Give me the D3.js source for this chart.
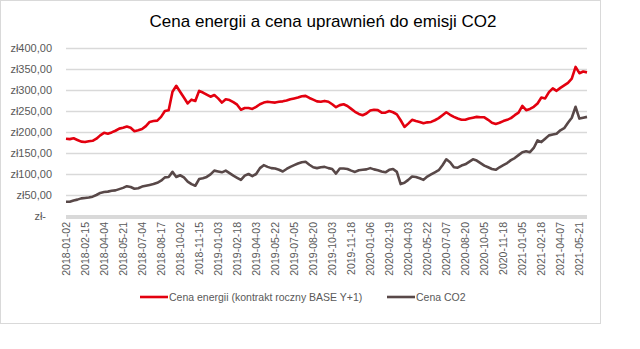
<!DOCTYPE html>
<html>
<head>
<meta charset="utf-8">
<script src="https://cdn.jsdelivr.net/npm/d3@7"></script>
<style>
  body { margin: 0; background: #fff; }
  svg { display: block; font-family: 'Liberation Sans', Arial, sans-serif; }
</style>
</head>
<body>
<svg id="chart" width="640" height="349"></svg>
<script>
// trading-day index of every sample (one value each 6 sessions)
let step = 6;
let lastIndex = 822;

// cena energii, kontrakt roczny BASE Y+1 (zl/MWh)
let energyValues = [
  184, 183, 185, 181, 177, 176, 178, 179, 184, 192,
  198, 196, 199, 203, 208, 210, 213, 210, 202, 204,
  207, 214, 224, 226, 227, 236, 250, 252, 296, 310,
  296, 282, 268, 277, 274, 298, 294, 289, 284, 288,
  280, 270, 278, 276, 271, 265, 253, 257, 257, 255,
  260, 266, 270, 272, 271, 270, 272, 273, 275, 278,
  280, 282, 285, 286, 281, 277, 273, 272, 274, 272,
  266, 259, 264, 266, 262, 255, 248, 243, 240, 244,
  251, 253, 252, 246, 246, 250, 247, 242, 228, 212,
  220, 229, 226, 224, 221, 223, 224, 228, 233, 240,
  247, 241, 236, 232, 229, 229, 232, 234, 236, 235,
  235, 229, 222, 219, 222, 226, 229, 233, 240, 246,
  262, 252, 255, 260, 268, 282, 280, 295, 304, 298,
  305, 311, 317, 327, 355, 340, 344, 342
];

// cena uprawnien do emisji CO2
let co2Values = [
  34, 34, 37, 39, 42, 43, 44, 46, 50, 55,
  57, 58, 60, 61, 64, 67, 71, 69, 65, 66,
  70, 72, 74, 76, 79, 84, 92, 93, 105, 93,
  97, 92, 82, 76, 72, 88, 90, 93, 99, 108,
  106, 104, 108, 102, 96, 91, 86, 96, 100, 95,
  100, 114, 121, 117, 114, 113, 110, 106, 112, 117,
  121, 125, 128, 129, 122, 116, 114, 116, 117, 114,
  112, 101, 113, 113, 112, 108, 105, 109, 110, 111,
  114, 111, 109, 106, 104, 110, 112, 105, 76, 79,
  86, 94, 93, 90, 86, 94, 99, 104, 109, 121,
  135, 128, 116, 115, 120, 123, 129, 135, 132, 126,
  120, 116, 112, 110, 116, 121, 126, 133, 138, 145,
  152, 154, 152, 162, 180, 176, 184, 192, 194, 196,
  204, 209, 222, 234, 260, 232, 234, 236
];

// category labels, one each 30 sessions
let tickLabels = [
  '2018-01-02', '2018-02-15', '2018-04-04', '2018-05-21', '2018-07-04', '2018-08-17',
  '2018-10-02', '2018-11-15', '2019-01-03', '2019-02-18', '2019-04-03', '2019-05-22',
  '2019-07-05', '2019-08-20', '2019-10-03', '2019-11-18', '2020-01-06', '2020-02-19',
  '2020-04-03', '2020-05-22', '2020-07-07', '2020-08-20', '2020-10-05', '2020-11-18',
  '2021-01-05', '2021-02-18', '2021-04-07', '2021-05-21'
];
let tickEvery = 30;
let yTicks = [0, 50, 100, 150, 200, 250, 300, 350, 400];

let seriesNames = ['Cena energii (kontrakt roczny BASE Y+1)', 'Cena CO2'];
let seriesColors = ['#e3000f', '#584848'];

let plotLeft = 66;
let plotRight = 587;
let plotTop = 48;
let plotBottom = 216;
let gridColor = '#d9d9d9';
let textColor = '#595959';

const svg = d3.select('#chart');

svg.append('rect')
  .attr('x', 0.5)
  .attr('y', 0.5)
  .attr('width', 600)
  .attr('height', 323)
  .attr('fill', '#fff')
  .attr('stroke', gridColor);

svg.append('text')
  .attr('x', 323)
  .attr('y', 27)
  .attr('text-anchor', 'middle')
  .attr('font-size', 17)
  .attr('fill', '#000')
  .text('Cena energii a cena uprawnień  do emisji CO2');

let xScale = d3.scaleLinear()
  .domain([0, lastIndex])
  .range([plotLeft, plotRight]);

let yScale = d3.scaleLinear()
  .domain([0, 400])
  .range([plotBottom, plotTop]);

// grid lines and y labels
let yAxis = d3.axisLeft(yScale)
  .tickValues(yTicks)
  .tickSize(-(plotRight - plotLeft))
  .tickPadding(14)
  .tickFormat(function (d) {
    return d === 0 ? 'zł-' : 'zł' + d3.format('.2f')(d).replace('.', ',');
  });

let yLine = svg.append('g')
  .attr('transform', 'translate(' + plotLeft + ',0)')
  .call(yAxis);
yLine.select('.domain').remove();
yLine.selectAll('line')
  .attr('stroke', gridColor)
  .attr('stroke-width', 1.3);
yLine.selectAll('text')
  .attr('font-size', 11)
  .attr('fill', textColor)
  .attr('font-family', 'Liberation Sans, Arial, sans-serif');
yLine.selectAll('.tick')
  .filter(function (d) { return d === 0; })
  .select('text')
  .attr('dx', -6);

// category axis
svg.append('rect')
  .attr('x', plotLeft)
  .attr('y', plotBottom - 1)
  .attr('width', plotRight - plotLeft)
  .attr('height', 4)
  .attr('fill', gridColor);

svg.append('g')
  .selectAll('text')
  .data(tickLabels)
  .enter()
  .append('text')
  .attr('transform', function (d, i) {
    return 'translate(' + (xScale(i * tickEvery) + 3.5) + ',' + (plotBottom + 6) + ') rotate(-90)';
  })
  .attr('text-anchor', 'end')
  .attr('font-size', 10.5)
  .attr('fill', textColor)
  .text(function (d) { return d; });

// series lines
let line = d3.line()
  .x(function (d, i) { return xScale(Math.min(i * step, lastIndex)); })
  .y(function (d) { return yScale(d); });

[energyValues, co2Values].forEach(function (values, s) {
  svg.append('path')
    .attr('d', line(values))
    .attr('fill', 'none')
    .attr('stroke', seriesColors[s])
    .attr('stroke-width', 2.6)
    .attr('stroke-linejoin', 'round');
});

// legend
let legendX = [140, 387];
let legend = svg.append('g');
seriesNames.forEach(function (name, s) {
  legend.append('line')
    .attr('x1', legendX[s])
    .attr('x2', legendX[s] + 28)
    .attr('y1', 297)
    .attr('y2', 297)
    .attr('stroke', seriesColors[s])
    .attr('stroke-width', 2.6);
  legend.append('text')
    .attr('x', legendX[s] + 29)
    .attr('y', 301)
    .attr('font-size', 10.5)
    .attr('fill', textColor)
    .text(name);
});
</script>
</body>
</html>
